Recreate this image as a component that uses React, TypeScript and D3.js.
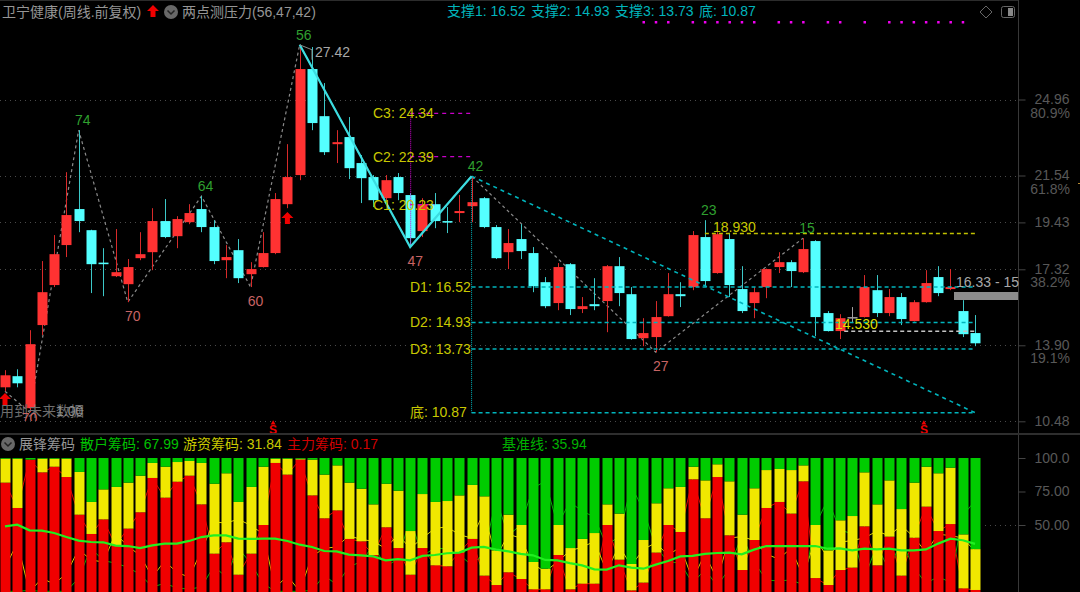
import { useEffect, useRef } from "react";
import * as d3 from "d3";

const WIDTH = 1080;
const HEIGHT = 592;

// Weekly candles
const opens = [
  12.01, 12.51, 11.07, 14.81, 16.61, 18.41, 20.03, 19.08, 17.62, 17.01,
  16.65, 17.82, 18.09, 19.49, 18.81, 19.44, 20.03, 19.22, 17.73, 18.18,
  17.1, 17.42, 18.05, 20.25, 21.56, 26.33, 24.21, 22.95, 23.27, 22.1,
  21.47, 20.52, 21.47, 20.66, 19.04, 20.25, 19.49, 19.85, 20.16, 20.52,
  19.22, 18.09, 18.68, 18.05, 16.74, 15.8, 17.55, 15.53, 15.75, 15.89,
  17.46, 16.2, 14.22, 14.27, 15.21, 16.2, 16.52, 18.77, 17.15, 18.68,
  16.43, 15.8, 16.52, 17.42, 17.64, 17.19, 18.59, 15.35, 14.54, 15.17,
  15.17, 16.38, 15.35, 16.07, 14.99, 15.84, 16.97, 16.43, 15.44, 14.45,
];
const closes = [
  12.55, 12.19, 13.95, 16.29, 18.0, 19.76, 19.49, 17.55, 17.55, 17.19,
  17.42, 18.0, 19.49, 18.77, 19.58, 19.85, 19.22, 17.69, 17.87, 16.92,
  17.33, 18.05, 20.48, 21.47, 26.33, 23.9, 22.59, 23.04, 21.87, 21.42,
  20.43, 21.33, 20.75, 18.72, 20.25, 19.49, 19.42, 19.94, 20.34, 19.22,
  17.82, 18.5, 18.14, 16.56, 15.66, 17.42, 15.53, 15.66, 15.66, 17.46,
  16.25, 14.18, 14.45, 15.17, 16.2, 16.11, 18.86, 16.79, 18.9, 16.61,
  15.44, 16.29, 17.33, 17.64, 17.24, 18.23, 15.17, 14.54, 15.12, 15.17,
  16.52, 15.35, 16.07, 15.08, 15.84, 16.7, 16.25, 16.52, 14.4, 13.99,
];
const highs = [
  12.78, 12.82, 14.58, 17.69, 18.86, 21.69, 23.58, 19.1, 18.27, 19.13,
  17.78, 18.99, 20.07, 20.48, 19.71, 20.25, 20.61, 19.53, 18.41, 18.68,
  17.64, 18.99, 20.75, 22.95, 27.42, 27.32, 25.7, 23.58, 24.17, 22.46,
  21.56, 21.56, 21.65, 20.75, 20.52, 20.75, 20.12, 20.66, 21.51, 20.57,
  19.31, 19.13, 19.35, 18.32, 16.97, 17.6, 17.6, 16.07, 16.92, 17.51,
  17.87, 16.52, 15.12, 15.89, 17.15, 16.74, 19.04, 19.53, 18.99, 18.95,
  17.46, 16.52, 17.35, 18.09, 17.73, 18.72, 18.63, 15.44, 15.3, 15.62,
  17.06, 17.06, 16.43, 16.25, 15.93, 17.28, 17.46, 17.33, 15.93, 15.26,
];
const lows = [
  11.83, 12.01, 10.89, 14.36, 16.52, 17.87, 18.99, 16.25, 16.11, 16.97,
  15.84, 17.73, 17.28, 18.72, 18.27, 19.35, 18.99, 17.55, 16.92, 16.7,
  16.52, 17.4, 18.0, 20.07, 21.33, 23.58, 22.46, 22.1, 21.38, 20.3,
  20.12, 20.43, 20.43, 18.32, 18.77, 19.17, 18.95, 19.44, 19.44, 19.17,
  17.78, 17.33, 17.78, 16.29, 15.57, 15.48, 15.26, 15.35, 15.48, 14.49,
  15.66, 14.15, 13.86, 13.59, 15.19, 15.62, 16.38, 16.56, 17.12, 16.07,
  15.35, 15.12, 16.02, 17.15, 16.52, 17.15, 14.31, 14.52, 14.18, 14.9,
  15.15, 15.17, 15.21, 14.81, 14.97, 15.82, 16.11, 16.38, 14.27, 13.86,
];

// Lower panel
const zhuli = [
  81.6, 62.7, 98.8, 89.3, 93.5, 85.8, 57.7, 43.3, 54.2, 34.8,
  47.3, 59.5, 85.1, 70.4, 82.3, 86.8, 65.4, 28.6, 37.1, 12.9,
  28.6, 50, 96.3, 87.6, 98.8, 72.1, 55, 60.9, 39.6, 37.8,
  27.6, 48.3, 32.8, 12.9, 32.8, 19.9, 19.2, 29.4, 39.6, 12.2,
  5.2, 14.7, 9.7, 2, 2, 27.6, 2, 6.2, 6.2, 50,
  24.1, 1.2, 7, 29.4, 50, 44.8, 84.1, 55, 85.8, 42.3,
  16.4, 38.8, 62.7, 67.2, 58.5, 82.6, 10.4, 5.2, 16.4, 18.2,
  49, 19.9, 41.3, 12.2, 40.5, 63.7, 45.5, 50.7, 2.7, 1.51,
];
const youzi = [
  17.9, 36.8, 0, 10.2, 6, 13.7, 31.9, 23.9, 22.4, 43.6,
  34.3, 27.3, 11.2, 23.1, 14.7, 11, 30.9, 52.2, 51.5, 54.3,
  49.8, 43.5, 3.2, 11.9, 0.7, 26.7, 32.6, 33.6, 42, 39.3,
  37.8, 32.5, 42.8, 32.6, 40.3, 47.3, 48.7, 42.7, 40.3, 59.2,
  25.9, 43, 40.3, 20.4, 15.4, 22.4, 30.8, 33.4, 37.8, 15.4,
  34.4, 19.7, 31.8, 36.8, 27.4, 33.6, 9.4, 28.3, 9.5, 40.3,
  41.3, 38.6, 28.3, 24.6, 32.5, 11.9, 39.6, 25.9, 37.1, 38.5,
  40.3, 45.5, 42, 49.7, 41.1, 29.8, 43.1, 42.1, 40.3, 30.5,
];
const sanhu = [
  0.5, 0.5, 1.2, 0.5, 0.5, 0.5, 10.4, 32.8, 23.4, 21.6,
  18.4, 13.2, 3.7, 6.5, 3, 2.2, 3.7, 19.2, 11.4, 32.8,
  21.6, 6.5, 0.5, 0.5, 0.5, 1.2, 12.4, 5.5, 18.4, 22.9,
  34.6, 19.2, 24.4, 54.5, 26.9, 32.8, 32.1, 27.9, 20.1, 28.6,
  68.9, 42.3, 50, 77.6, 82.6, 50, 67.2, 60.4, 56, 34.6,
  41.5, 79.1, 61.2, 33.8, 22.6, 21.6, 6.5, 16.7, 4.7, 17.4,
  42.3, 22.6, 9, 8.2, 9, 5.5, 50, 68.9, 46.5, 43.3,
  10.7, 34.6, 16.7, 38.1, 18.4, 6.5, 11.4, 7.2, 57, 67.99,
];
const baseline = [
  49, 50.2, 46, 45.8, 44, 41, 38.3, 37.3, 37.1, 34.6,
  34.3, 32.8, 34.8, 36.1, 36.1, 38.1, 41, 42.3, 42.3, 39.8,
  39.6, 39.8, 39.8, 38.1, 35.3, 33.6, 30.6, 30.3, 27.9, 27.4,
  26.6, 23.6, 24.6, 23.6, 26.9, 27.6, 28.9, 29.4, 33.1, 33.6,
  31.6, 30.3, 28.4, 27.4, 23.9, 23.6, 21.6, 19.9, 16.9, 16.7,
  19.9, 18.2, 17.4, 20.4, 23.1, 26.6, 26.9, 28.4, 29.1, 29.4,
  28.1, 31.6, 34.3, 34.3, 34.3, 34.3, 34.3, 32.3, 32.6, 31.1,
  32.3, 31.8, 32.3, 31.1, 31.1, 31.8, 36.1, 39.8, 38.6, 35.94,
];

// Zigzag pivots as candle index + price
const zigzagIdx = [0, 2, 6, 10, 16, 20, 24, 33, 38, 53, 65];
const zigzagPrice = [11.83, 10.89, 23.58, 15.84, 20.61, 16.52, 27.42, 18.32, 21.51, 13.59, 18.72];
const swingIdx = [24, 33, 38];
const swingPrice = [27.42, 18.32, 21.51];

const pivotHigh = [
  { i: 6, price: 23.58, text: "74" },
  { i: 16, price: 20.61, text: "64" },
  { i: 24, price: 27.42, text: "56" },
  { i: 38, price: 21.51, text: "42" },
  { i: 57, price: 19.53, text: "23" },
  { i: 65, price: 18.72, text: "15" },
];
const pivotLow = [
  { i: 10, price: 15.84, text: "70" },
  { i: 20, price: 16.52, text: "60" },
  { i: 33, price: 18.32, text: "47" },
  { i: 53, price: 13.59, text: "27" },
];

const supportNames = ["D1", "D2", "D3", "底"];
const supportValues = [16.52, 14.93, 13.73, 10.87];
const pressureNames = ["C3", "C2", "C1"];
const pressureValues = [24.34, 22.39, 20.23];
const pressureEnd = [38, 38, 35];

const priceTicks = [24.96, 21.54, 19.43, 17.32, 13.9, 10.48];
const fibTicks = [
  { price: 24.96, text: "80.9%" },
  { price: 21.54, text: "61.8%" },
  { price: 17.32, text: "38.2%" },
  { price: 13.9, text: "19.1%" },
];
const lowerTicks = [100, 75, 50];

const magentaDots = [52, 53, 54, 56, 57, 58, 59, 60, 61, 63, 64, 65, 67, 68, 70, 72, 73, 74, 75, 76, 77, 78];
const sellSignals = [22, 75];
const buySignals = [0, 23];

const FONT = "'Liberation Sans', 'Noto Sans CJK SC', sans-serif";
const UP = "#ff3232";
const DOWN = "#54ffff";
const TEAL = "#00b4bc";
const YELLOW = "#c8c800";
const GRAY = "#585858";

const arrowPath = (cx: number, top: number) => {
  const p = d3.path();
  p.moveTo(cx, top);
  p.lineTo(cx + 6, top + 6);
  p.lineTo(cx + 2.5, top + 6);
  p.lineTo(cx + 2.5, top + 12);
  p.lineTo(cx - 2.5, top + 12);
  p.lineTo(cx - 2.5, top + 6);
  p.lineTo(cx - 6, top + 6);
  p.closePath();
  return p.toString();
};

export default function App() {
  const svgRef = useRef<SVGSVGElement>(null);

  useEffect(() => {
    if (!svgRef.current) return;
    const svg = d3.select(svgRef.current);
    svg.selectAll("*").remove();

    const x = d3.scaleLinear().domain([0, 79]).range([5, 975]);
    const y = d3.scaleLinear().domain([24.96, 10.48]).range([99.5, 421.3]);
    const yLow = d3.scaleLinear().domain([0, 100]).range([592, 458]);
    const cx = (i: number) => Math.round(x(i));

    const label = (
      px: number,
      py: number,
      text: string,
      fill: string,
      anchor = "start",
    ) =>
      svg
        .append("text")
        .attr("x", px)
        .attr("y", py)
        .attr("fill", fill)
        .attr("text-anchor", anchor)
        .attr("dominant-baseline", "central")
        .attr("font-family", FONT)
        .attr("font-size", 14)
        .text(text);

    svg
      .append("rect")
      .attr("width", WIDTH)
      .attr("height", HEIGHT)
      .attr("fill", "#000");

    const clip = svg.append("clipPath").attr("id", "top-panel");
    clip.append("rect").attr("width", WIDTH).attr("height", 421);

    // Dotted price grid
    svg
      .append("g")
      .selectAll("line")
      .data(priceTicks)
      .join("line")
      .attr("x1", 0)
      .attr("x2", 1018)
      .attr("y1", (d) => Math.round(y(d)) + 0.5)
      .attr("y2", (d) => Math.round(y(d)) + 0.5)
      .attr("stroke", "#4a4a4a")
      .attr("stroke-dasharray", "1 4");

    // Zigzag under the candles
    const zigzag = d3
      .line<number>()
      .x((d) => x(d))
      .y((_, i) => y(zigzagPrice[i]));
    svg
      .append("path")
      .attr("d", zigzag(zigzagIdx))
      .attr("fill", "none")
      .attr("stroke", "#8a8a8a")
      .attr("stroke-width", 1.2)
      .attr("stroke-dasharray", "3 3");

    // Candles
    const candleColor = (i: number) =>
      closes[i] > opens[i] ? UP : closes[i] < opens[i] ? DOWN : "#a0a0a0";
    const candles = svg
      .append("g")
      .selectAll("g")
      .data(d3.range(opens.length))
      .join("g");
    candles
      .append("line")
      .attr("x1", (i) => cx(i) + 0.5)
      .attr("x2", (i) => cx(i) + 0.5)
      .attr("y1", (i) => y(highs[i]))
      .attr("y2", (i) => y(lows[i]))
      .attr("stroke", (i) =>
        closes[i] > opens[i] ? "#d82a2a" : closes[i] < opens[i] ? "#3cc8c8" : "#a0a0a0",
      );
    candles
      .append("rect")
      .attr("x", (i) => cx(i) - 4.5)
      .attr("width", 10)
      .attr("y", (i) => y(Math.max(opens[i], closes[i])))
      .attr("height", (i) =>
        Math.max(1.5, Math.abs(y(opens[i]) - y(closes[i]))),
      )
      .attr("fill", candleColor);

    // Support levels and the slide line
    supportValues.forEach((v) => {
      svg
        .append("line")
        .attr("x1", x(38))
        .attr("x2", x(79))
        .attr("y1", y(v))
        .attr("y2", y(v))
        .attr("stroke", TEAL)
        .attr("stroke-width", 1.5)
        .attr("stroke-dasharray", "4 3");
    });
    svg
      .append("line")
      .attr("x1", x(38))
      .attr("x2", x(79))
      .attr("y1", y(21.51))
      .attr("y2", y(10.87))
      .attr("stroke", TEAL)
      .attr("stroke-width", 1.6)
      .attr("stroke-dasharray", "4 4");
    svg
      .append("line")
      .attr("x1", x(38))
      .attr("x2", x(38))
      .attr("y1", y(21.51))
      .attr("y2", y(10.87))
      .attr("stroke", TEAL)
      .attr("stroke-dasharray", "1 1");

    // Pressure levels
    pressureValues.forEach((v, k) => {
      svg
        .append("line")
        .attr("x1", x(33))
        .attr("x2", x(pressureEnd[k]))
        .attr("y1", y(v))
        .attr("y2", y(v))
        .attr("stroke", "#c800c8")
        .attr("stroke-width", 1.2)
        .attr("stroke-dasharray", "4 4");
    });
    svg
      .append("line")
      .attr("x1", x(33) + 0.5)
      .attr("x2", x(33) + 0.5)
      .attr("y1", y(24.34))
      .attr("y2", y(18.32))
      .attr("stroke", "#d800d8")
      .attr("stroke-dasharray", "1 1");

    // 18.930 and 14.530 lines
    svg
      .append("line")
      .attr("x1", x(57))
      .attr("x2", x(79))
      .attr("y1", y(18.93))
      .attr("y2", y(18.93))
      .attr("stroke", "#c0c000")
      .attr("stroke-width", 1.5)
      .attr("stroke-dasharray", "4 3");
    svg
      .append("line")
      .attr("x1", x(69) - 8)
      .attr("x2", x(79))
      .attr("y1", y(14.53))
      .attr("y2", y(14.53))
      .attr("stroke", "#c4c4c4")
      .attr("stroke-width", 1.5)
      .attr("stroke-dasharray", "4 3");

    // Solid swing line 56 -> 47 -> 42
    const swing = d3
      .line<number>()
      .x((d) => x(d))
      .y((_, i) => y(swingPrice[i]));
    svg
      .append("path")
      .attr("d", swing(swingIdx))
      .attr("fill", "none")
      .attr("stroke", "#3cdce0")
      .attr("stroke-width", 2.2);

    // Connector of the 27.42 label
    svg
      .append("path")
      .attr(
        "d",
        d3.line()([
          [x(24), y(27.42)],
          [x(25), y(27.2)],
          [x(25), y(26.75)],
        ]),
      )
      .attr("fill", "none")
      .attr("stroke", "#8a8a8a");
    label(315, 52, "27.42", "#a8a8a8");

    // Pivot labels
    pivotHigh.forEach((d) =>
      label(x(d.i) + 4, y(d.price) - 10, d.text, "#2f9f2f", "middle"),
    );
    pivotLow.forEach((d) =>
      label(x(d.i) + 5, y(d.price) + 14, d.text, "#c86464", "middle"),
    );

    // Clipped label and note at the panel's bottom left
    label(0, 411, "用到未来数据", "#6e6e6e");
    label(56, 411, "1.00", "#8c8c8c");
    label(x(2), 418, "70", "#c86464", "middle").attr(
      "clip-path",
      "url(#top-panel)",
    );

    // Text labels of the levels
    pressureNames.forEach((n, k) =>
      label(373, y(pressureValues[k]), `${n}: ${pressureValues[k].toFixed(2)}`, YELLOW),
    );
    supportNames.forEach((n, k) =>
      label(410, y(supportValues[k]) - 0.5, `${n}: ${supportValues[k].toFixed(2)}`, YELLOW),
    );
    label(713, 227, "18.930", YELLOW);
    label(835, 324, "14.530", "#dede00");

    // Buy arrows and sell marks
    buySignals.forEach((i, k) =>
      svg
        .append("path")
        .attr("d", arrowPath(x(i), k === 0 ? 393 : 212))
        .attr("fill", "#f00000"),
    );
    sellSignals.forEach((i) => {
      svg
        .append("path")
        .attr("d", d3.symbol().type(d3.symbolTriangle).size(10)())
        .attr("transform", `translate(${x(i) - 2},423)`)
        .attr("fill", "#f00000");
      label(x(i) - 2, 429.5, "S", "#f00000", "middle")
        .attr("font-size", 12)
        .attr("font-weight", "bold");
    });

    // Signal dots along the top
    svg
      .append("g")
      .selectAll("rect")
      .data(magentaDots)
      .join("rect")
      .attr("x", (i) => x(i) - 1)
      .attr("y", 21)
      .attr("width", 2.5)
      .attr("height", 2.5)
      .attr("fill", "#f000f0");

    // Right axis
    svg
      .append("line")
      .attr("x1", 1018.5)
      .attr("x2", 1018.5)
      .attr("y1", 0)
      .attr("y2", HEIGHT)
      .attr("stroke", "#383838");
    svg
      .append("line")
      .attr("x1", 0)
      .attr("x2", 1018)
      .attr("y1", 0.5)
      .attr("y2", 0.5)
      .attr("stroke", "#2c2c2c");

    const axisUpper = svg
      .append("g")
      .attr("transform", "translate(1018.5,0)")
      .call(
        d3
          .axisRight(y)
          .tickValues(priceTicks)
          .tickSize(7)
          .tickPadding(44)
          .tickFormat((d) => (d as number).toFixed(2)),
      );
    axisUpper.select(".domain").remove();
    axisUpper.selectAll(".tick line").attr("stroke", "#444");
    axisUpper
      .selectAll(".tick text")
      .attr("fill", GRAY)
      .attr("text-anchor", "end")
      .attr("font-family", FONT)
      .attr("font-size", 14);

    fibTicks.forEach((d) => label(1070, y(d.price) + 13, d.text, GRAY, "end"));

    svg
      .append("line")
      .attr("x1", 1078)
      .attr("x2", 1080)
      .attr("y1", 183.5)
      .attr("y2", 183.5)
      .attr("stroke", "#b88a30");

    // Grey price tag on the last candles
    svg
      .append("rect")
      .attr("x", 954)
      .attr("y", 292)
      .attr("width", 64)
      .attr("height", 8)
      .attr("fill", "#8c8c8c");
    label(956, 282, "16.33 - 15", "#a8a8a8");

    // Top legends
    label(2, 12, "卫宁健康(周线.前复权)", "#969696");
    svg.append("path").attr("d", arrowPath(153, 5)).attr("fill", "#f00000");
    label(182, 12, "两点测压力(56,47,42)", "#969696");
    label(447, 11, "支撑1: 16.52", TEAL);
    label(531, 11, "支撑2: 14.93", TEAL);
    label(615, 11, "支撑3: 13.73", TEAL);
    label(699, 11, "底: 10.87", TEAL);

    const chevron = (px: number, py: number) => {
      svg
        .append("circle")
        .attr("cx", px)
        .attr("cy", py)
        .attr("r", 7)
        .attr("fill", "#686868");
      svg
        .append("path")
        .attr(
          "d",
          d3.line()([
            [px - 3.5, py - 1.5],
            [px, py + 2],
            [px + 3.5, py - 1.5],
          ]),
        )
        .attr("fill", "none")
        .attr("stroke", "#222")
        .attr("stroke-width", 1.5);
    };
    chevron(171, 12);

    svg
      .append("path")
      .attr("d", "M986,6 L992,12 L986,18 L980,12 Z")
      .attr("fill", "none")
      .attr("stroke", "#666");
    svg
      .append("rect")
      .attr("x", 1001.5)
      .attr("y", 6.5)
      .attr("width", 13)
      .attr("height", 11)
      .attr("rx", 2)
      .attr("fill", "none")
      .attr("stroke", "#666");
    svg
      .append("rect")
      .attr("x", 1008)
      .attr("y", 8)
      .attr("width", 5)
      .attr("height", 8)
      .attr("fill", "#888");

    // Lower panel
    svg
      .append("rect")
      .attr("x", 0)
      .attr("y", 433)
      .attr("width", WIDTH)
      .attr("height", 2)
      .attr("fill", "#2e2e2e");
    chevron(8, 444);
    label(19, 444, "展锋筹码", "#969696");
    label(80, 444, "散户筹码: 67.99", "#00c000");
    label(183, 444, "游资筹码: 31.84", "#c8c800");
    label(287, 444, "主力筹码: 0.17", "#d00000");
    label(502, 444, "基准线: 35.94", "#00b000");

    svg
      .append("line")
      .attr("x1", 985)
      .attr("x2", 1018)
      .attr("y1", yLow(50) + 0.5)
      .attr("y2", yLow(50) + 0.5)
      .attr("stroke", "#4a4a4a")
      .attr("stroke-dasharray", "1 4");

    const axisLower = svg
      .append("g")
      .attr("transform", "translate(1018.5,0)")
      .call(
        d3
          .axisRight(yLow)
          .tickValues(lowerTicks)
          .tickSize(7)
          .tickPadding(44)
          .tickFormat((d) => (d === 100 ? "100.0" : (d as number).toFixed(2))),
      );
    axisLower.select(".domain").remove();
    axisLower.selectAll(".tick line").attr("stroke", "#444");
    axisLower
      .selectAll(".tick text")
      .attr("fill", GRAY)
      .attr("text-anchor", "end")
      .attr("font-family", FONT)
      .attr("font-size", 14);

    // Thin raw lines sit under the bars and only show in the gaps
    const thin = d3
      .line<number>()
      .x((_, i) => x(i))
      .y((d) => yLow(d));
    [
      { values: zhuli, color: "#e00000" },
      { values: youzi, color: "#d8d000" },
      { values: sanhu, color: "#00b000" },
    ].forEach((s) =>
      svg
        .append("path")
        .attr("d", thin(s.values))
        .attr("fill", "none")
        .attr("stroke", s.color),
    );

    const stackRows = zhuli.map((z, i) => ({
      zhuli: z,
      youzi: youzi[i],
      sanhu: sanhu[i],
    }));
    const stacked = d3.stack<(typeof stackRows)[number]>().keys(["zhuli", "youzi", "sanhu"])(stackRows);
    const stackColors = ["#f00000", "#f0e800", "#00cc00"];
    svg
      .append("g")
      .selectAll("g")
      .data(stacked)
      .join("g")
      .attr("fill", (_, k) => stackColors[k])
      .selectAll("rect")
      .data((d) => d)
      .join("rect")
      .attr("x", (_, i) => cx(i) - 4.5)
      .attr("width", 10)
      .attr("y", (d) => yLow(d[1]))
      .attr("height", (d) => yLow(d[0]) - yLow(d[1]));

    svg
      .append("path")
      .attr("d", thin(baseline))
      .attr("fill", "none")
      .attr("stroke", "#20f020")
      .attr("stroke-width", 2.2);
  }, []);

  return (
    <svg
      ref={svgRef}
      width={WIDTH}
      height={HEIGHT}
      style={{ position: "fixed", left: 0, top: 0, display: "block" }}
    />
  );
}
